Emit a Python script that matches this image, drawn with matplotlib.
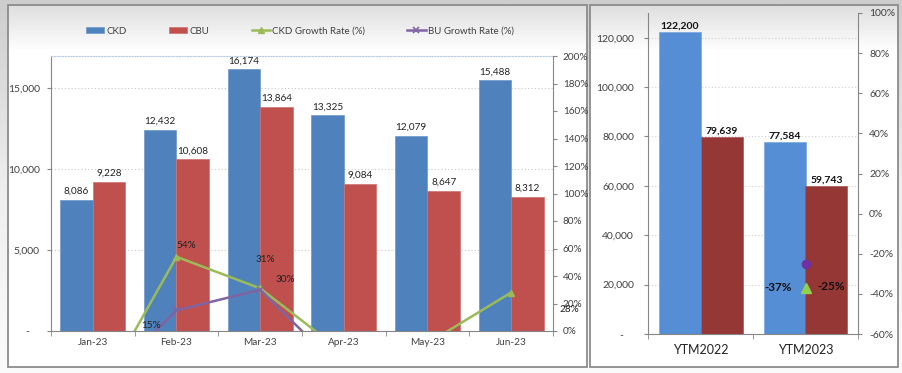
import matplotlib
matplotlib.use('Agg')
import matplotlib.pyplot as plt
import numpy as np
from matplotlib.patches import Rectangle
from matplotlib.colors import LinearSegmentedColormap
from matplotlib.ticker import FuncFormatter

plt.rcParams['font.family'] = ['Lato', 'DejaVu Sans']

# ---------------- data ----------------
months = ['Jan-23', 'Feb-23', 'Mar-23', 'Apr-23', 'May-23', 'Jun-23']
ckd = [8086, 12432, 16174, 13325, 12079, 15488]
cbu = [9228, 10608, 13864, 9084, 8647, 8312]
ckd_growth = [-54, 54, 31, -16, -9, 28]
bu_growth = [-45, 15, 30, -30, -25, -35]

ytm_labels = ['YTM2022', 'YTM2023']
ytm_ckd = [122200, 77584]
ytm_cbu = [79639, 59743]
ytm_ckd_growth = [np.nan, -37]
ytm_cbu_growth = [np.nan, -25]

# label offsets (pixels, x right / y up) -- styling only
ckd_lab_off = [(0, 0), (10, 11), (5, 29), (0, 0), (0, 0), (58, -17)]
bu_lab_off = [(0, 0), (-25, -15), (25, 10), (0, 0), (0, 0), (0, 0)]

W, H = 903, 373
fig = plt.figure(figsize=(W / 100, H / 100), dpi=100)

# ---------------- background ----------------
bg = fig.add_axes([0, 0, 1, 1], zorder=-10)
bg.set_xlim(0, W)
bg.set_ylim(H, 0)
bg.axis('off')
outer = LinearSegmentedColormap.from_list('o', ['#cdcdcd', '#eeeeee', '#fbfbfb'])
bg.imshow(np.linspace(0, 1, 200).reshape(-1, 1), extent=(0, W, H, 0),
          cmap=outer, aspect='auto')
inner = LinearSegmentedColormap.from_list('i', ['#dedede', '#ffffff'])
for (x0, y0, x1, y1) in [(8, 5, 587, 367), (590, 5, 898, 367)]:
    yy = np.arange(y0, y1)
    t = np.clip((yy - y0) / 45.0, 0, 1).reshape(-1, 1)
    bg.imshow(t, extent=(x0, x1, y1, y0), cmap=inner, aspect='auto', vmin=0, vmax=1)
    bg.add_patch(Rectangle((x0, y0), x1 - x0, y1 - y0, fill=False,
                           edgecolor='#8c8c8c', lw=1.3))
bg.set_xlim(0, W)
bg.set_ylim(H, 0)

axis_col = '#868686'
txt_col = '#404040'
px = 0.72  # pixel -> points


def kfmt(v, p):
    return '-    ' if v == 0 else f'{v:,.0f}'


# ---------------- left chart ----------------
ax1 = fig.add_axes([51 / W, 1 - 331 / H, 502 / W, 275 / H])
ax1.set_facecolor('none')
x = np.arange(len(months))
w = 0.39
b1 = ax1.bar(x - w / 2, ckd, w, color='#4F81BD', edgecolor='#6f97cc', lw=0.5, label='CKD')
b2 = ax1.bar(x + w / 2, cbu, w, color='#C0504D', edgecolor='#cf716e', lw=0.5, label='CBU')
ax1.set_xlim(-0.5, len(months) - 0.5)
ax1.set_ylim(0, 17000)
ax1.set_yticks([0, 5000, 10000, 15000])
ax1.yaxis.set_major_formatter(FuncFormatter(kfmt))
ax1.set_xticks(x)
ax1.set_xticklabels(months)
ax1.set_xticks(np.arange(-0.5, len(months), 1), minor=True)
ax1.tick_params(axis='x', which='major', length=0, pad=5, labelsize=7.2, labelcolor=txt_col)
ax1.tick_params(axis='x', which='minor', length=3.5, color=axis_col)
ax1.tick_params(axis='y', length=3, color=axis_col, labelsize=7.5, labelcolor=txt_col, pad=5)
ax1.grid(axis='y', linestyle=(0, (1, 2)), color='#c6c6c6', lw=0.8)
ax1.set_axisbelow(True)
for s in ['left', 'bottom']:
    ax1.spines[s].set_color(axis_col)
ax1.spines['top'].set_color('#b8cce4')
ax1.spines['top'].set_linestyle((0, (1, 1.5)))
ax1.spines['right'].set_visible(False)

for bars, vals in [(b1, ckd), (b2, cbu)]:
    for r, v in zip(bars, vals):
        ax1.annotate(f'{v:,}', (r.get_x() + r.get_width() / 2, v), xytext=(0, 3),
                     textcoords='offset points', ha='center', va='bottom',
                     fontsize=7.2, color='#222222')

ax1r = ax1.twinx()
ax1r.set_ylim(0, 200)
ax1r.set_yticks(np.arange(0, 201, 20))
ax1r.yaxis.set_major_formatter(FuncFormatter(lambda v, p: f'{v:.0f}%'))
ax1r.tick_params(axis='y', length=3, color=axis_col, labelsize=7.2, labelcolor=txt_col, pad=4)
ax1r.spines['right'].set_color(axis_col)
for s in ['top', 'left', 'bottom']:
    ax1r.spines[s].set_visible(False)
l1, = ax1r.plot(x, ckd_growth, color='#9BBB59', lw=1.8, marker='^', ms=5,
                label='CKD Growth Rate (%)')
l2, = ax1r.plot(x, bu_growth, color='#8064A2', lw=1.8, marker='x', ms=4, mew=1.2,
                label='BU Growth Rate (%)')
for vals, offs in [(ckd_growth, ckd_lab_off), (bu_growth, bu_lab_off)]:
    for xi, v, off in zip(x, vals, offs):
        if v >= 0:
            ax1r.annotate(f'{v}%', (xi, v), xytext=(off[0] * px, off[1] * px),
                          textcoords='offset points', ha='center', va='center',
                          fontsize=7.2, color='#222222')

fig.legend([b1, b2, l1, l2], ['CKD', 'CBU', 'CKD Growth Rate (%)', 'BU Growth Rate (%)'],
           loc='center', bbox_to_anchor=(300 / W, 1 - 31 / H), ncol=4, frameon=False,
           fontsize=7, handlelength=1.9, handletextpad=0.25, columnspacing=4.3,
           handleheight=0.5, labelcolor=txt_col)

# ---------------- right chart ----------------
ax2 = fig.add_axes([648 / W, 1 - 334 / H, 210 / W, 321 / H])
ax2.set_facecolor('none')
x2 = np.arange(len(ytm_labels))
w2 = 0.4
c1 = ax2.bar(x2 - w2 / 2, ytm_ckd, w2, color='#558ED5', edgecolor='#7aa6df', lw=0.5)
c2 = ax2.bar(x2 + w2 / 2, ytm_cbu, w2, color='#953735', edgecolor='#a95553', lw=0.5)
ax2.set_xlim(-0.5, len(ytm_labels) - 0.5)
ax2.set_ylim(0, 130000)
ax2.set_yticks(np.arange(0, 130001, 20000))
ax2.yaxis.set_major_formatter(FuncFormatter(kfmt))
ax2.set_xticks(x2)
ax2.set_xticklabels(ytm_labels)
ax2.set_xticks(np.arange(-0.5, len(ytm_labels), 1), minor=True)
ax2.tick_params(axis='x', which='major', length=0, pad=7, labelsize=9, labelcolor='#222222')
ax2.tick_params(axis='x', which='minor', length=3.5, color=axis_col)
ax2.tick_params(axis='y', length=3, color=axis_col, labelsize=7.5, labelcolor=txt_col, pad=7)
ax2.grid(axis='y', linestyle=(0, (1, 2)), color='#d0d0d0', lw=0.8)
ax2.set_axisbelow(True)
for s in ['left', 'bottom']:
    ax2.spines[s].set_color(axis_col)
ax2.spines['top'].set_visible(False)
ax2.spines['right'].set_visible(False)
for bars, vals in [(c1, ytm_ckd), (c2, ytm_cbu)]:
    for r, v in zip(bars, vals):
        ax2.annotate(f'{v:,}', (r.get_x() + r.get_width() / 2, v), xytext=(0, 1.5),
                     textcoords='offset points', ha='center', va='bottom',
                     fontsize=7.5, fontweight='bold', color='#111111')

ax2r = ax2.twinx()
ax2r.set_ylim(-60, 100)
ax2r.set_yticks(np.arange(-60, 101, 20))
ax2r.yaxis.set_major_formatter(FuncFormatter(lambda v, p: f'{v:.0f}%'))
ax2r.tick_params(axis='y', length=3, color=axis_col, labelsize=7.5, labelcolor=txt_col, pad=5)
ax2r.spines['right'].set_color(axis_col)
for s in ['top', 'left', 'bottom']:
    ax2r.spines[s].set_visible(False)
ax2r.plot(x2, ytm_ckd_growth, ls='none', marker='^', ms=7.5, color='#92D050')
ax2r.plot(x2, ytm_cbu_growth, ls='none', marker='o', ms=6, color='#7030A0')
for xi, v in zip(x2, ytm_ckd_growth):
    if not np.isnan(v):
        ax2r.annotate(f'{v:.0f}%', (xi, v), xytext=(-27 * px, 0), textcoords='offset points',
                      ha='center', va='center', fontsize=8.5, fontweight='bold', color='#111111')
for xi, v in zip(x2, ytm_cbu_growth):
    if not np.isnan(v):
        ax2r.annotate(f'{v:.0f}%', (xi, v), xytext=(26 * px, -23 * px), textcoords='offset points',
                      ha='center', va='center', fontsize=8.5, fontweight='bold', color='#111111')

fig.savefig('out.png', dpi=100)
